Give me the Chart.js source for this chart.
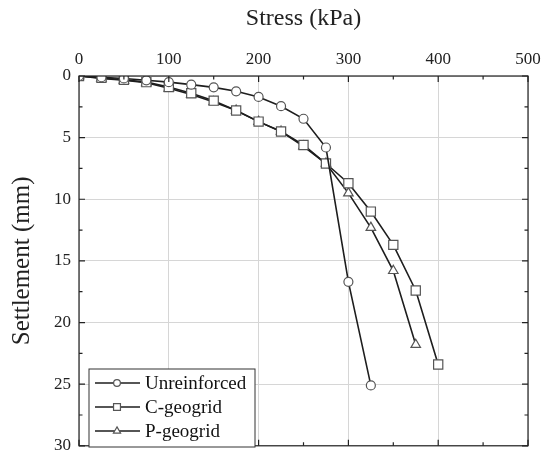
<!DOCTYPE html>
<html>
<head>
<meta charset="utf-8">
<script src="https://cdn.jsdelivr.net/npm/chart.js@4/dist/chart.umd.min.js"></script>
<style>
  html, body { margin: 0; padding: 0; background: #fff; }
  #wrap { width: 552px; height: 464px; }
</style>
</head>
<body>
<div id="wrap"><canvas id="chart" width="552" height="464"></canvas></div>
<script>
// Stress (kPa) and settlement (mm)
const unreinforcedStress = [0, 25, 50, 75, 100, 125, 150, 175, 200, 225, 250, 275, 300, 325];
const unreinforcedSettle = [0, 0.1, 0.2, 0.35, 0.5, 0.7, 0.92, 1.24, 1.7, 2.45, 3.47, 5.8, 16.7, 25.1];

const cGeogridStress = [0, 25, 50, 75, 100, 125, 150, 175, 200, 225, 250, 275, 300, 325, 350, 375, 400];
const cGeogridSettle = [0, 0.15, 0.3, 0.5, 0.9, 1.4, 2.0, 2.8, 3.7, 4.5, 5.6, 7.1, 8.7, 11.0, 13.7, 17.4, 23.4];

const pGeogridStress = [0, 25, 50, 75, 100, 125, 150, 175, 200, 225, 250, 275, 300, 325, 350, 375];
const pGeogridSettle = [0, 0.2, 0.35, 0.55, 1.0, 1.5, 2.1, 2.8, 3.7, 4.5, 5.7, 7.1, 9.5, 12.3, 15.8, 21.8];

const seriesNames = ["Unreinforced", "C-geogrid", "P-geogrid"];
const xTicks = [0, 100, 200, 300, 400, 500];
const yTicks = [0, 5, 10, 15, 20, 25, 30];

const FONT = "'Liberation Serif', 'DejaVu Serif', serif";

function toPoints(xs, ys) {
  return xs.map((x, i) => ({ x: x, y: ys[i] }));
}

function makeSet(label, xs, ys, style, radius) {
  return {
    label: label,
    data: toPoints(xs, ys),
    borderColor: "#1e1e1e",
    borderWidth: 1.6,
    pointStyle: style,
    pointRadius: radius,
    pointBackgroundColor: "#fff",
    pointBorderColor: "#555",
    pointBorderWidth: 1.2,
    tension: 0,
  };
}

// Frame with inward ticks on all four sides
const frameTicks = {
  id: "frameTicks",
  afterDraw(c) {
    const ctx = c.ctx;
    const a = c.chartArea;
    const xs = c.scales.x;
    const ys = c.scales.y;
    ctx.save();
    ctx.strokeStyle = "#222";
    ctx.lineWidth = 1.2;
    ctx.strokeRect(a.left, a.top, a.right - a.left, a.bottom - a.top);
    ctx.beginPath();
    for (let v = 0; v <= 500; v += 50) {
      const px = xs.getPixelForValue(v);
      const len = v % 100 === 0 ? 6 : 3.5;
      ctx.moveTo(px, a.top); ctx.lineTo(px, a.top + len);
      ctx.moveTo(px, a.bottom); ctx.lineTo(px, a.bottom - len);
    }
    for (let v = 0; v <= 30; v += 2.5) {
      const py = ys.getPixelForValue(v);
      const len = v % 5 === 0 ? 6 : 3.5;
      ctx.moveTo(a.left, py); ctx.lineTo(a.left + len, py);
      ctx.moveTo(a.right, py); ctx.lineTo(a.right - len, py);
    }
    ctx.stroke();
    ctx.restore();
  },
};

// Legend box in the lower left of the plot
const innerLegend = {
  id: "innerLegend",
  afterDraw(c) {
    const ctx = c.ctx;
    const left = 89, top = 369, w = 166, h = 78;
    ctx.save();
    ctx.fillStyle = "#fff";
    ctx.fillRect(left, top, w, h);
    ctx.strokeStyle = "#333";
    ctx.lineWidth = 1;
    ctx.strokeRect(left, top, w, h);
    c.data.datasets.forEach((ds, i) => {
      const y = top + 14 + i * 24;
      ctx.strokeStyle = ds.borderColor;
      ctx.lineWidth = ds.borderWidth;
      ctx.beginPath();
      ctx.moveTo(left + 6, y);
      ctx.lineTo(left + 51, y);
      ctx.stroke();
      ctx.fillStyle = "#fff";
      ctx.strokeStyle = ds.pointBorderColor;
      ctx.lineWidth = ds.pointBorderWidth;
      Chart.helpers.drawPoint(ctx, { pointStyle: ds.pointStyle, radius: ds.pointRadius * 0.75, borderWidth: 1 }, left + 28, y);
      ctx.fillStyle = "#111";
      ctx.font = "19px " + FONT;
      ctx.textBaseline = "middle";
      ctx.fillText(ds.label, left + 56, y + 1);
    });
    ctx.restore();
  },
};

new Chart(document.querySelector("#chart").getContext("2d"), {
  type: "line",
  data: {
    datasets: [
      makeSet(seriesNames[0], unreinforcedStress, unreinforcedSettle, "circle", 4.5),
      makeSet(seriesNames[1], cGeogridStress, cGeogridSettle, "rect", 6.5),
      makeSet(seriesNames[2], pGeogridStress, pGeogridSettle, "triangle", 5.5),
    ],
  },
  options: {
    responsive: false,
    animation: false,
    layout: { padding: { right: 24, bottom: 7, left: 0, top: 0 } },
    plugins: { legend: { display: false }, tooltip: { enabled: false } },
    scales: {
      x: {
        type: "linear",
        position: "top",
        min: 0,
        max: 500,
        afterBuildTicks: (s) => { s.ticks = xTicks.map((v) => ({ value: v })); },
        afterFit: (s) => { s.height = 76; },
        grid: { color: "#d6d6d6", lineWidth: 1, drawTicks: false },
        border: { display: false },
        ticks: { color: "#222", padding: 6, font: { family: FONT, size: 17 } },
        title: {
          display: true,
          text: "Stress (kPa)",
          color: "#222",
          padding: { top: 4, bottom: 0 },
          font: { family: FONT, size: 24 },
        },
      },
      y: {
        type: "linear",
        reverse: true,
        min: 0,
        max: 30,
        afterBuildTicks: (s) => { s.ticks = yTicks.map((v) => ({ value: v })); },
        afterFit: (s) => { s.width = 79; },
        grid: { color: "#d6d6d6", lineWidth: 1, drawTicks: false },
        border: { display: false },
        ticks: { color: "#222", padding: 8, font: { family: FONT, size: 17 } },
        title: {
          display: true,
          text: "Settlement (mm)",
          color: "#222",
          padding: { top: 7, bottom: 0 },
          font: { family: FONT, size: 25 },
        },
      },
    },
  },
  plugins: [frameTicks, innerLegend],
});
</script>
</body>
</html>
